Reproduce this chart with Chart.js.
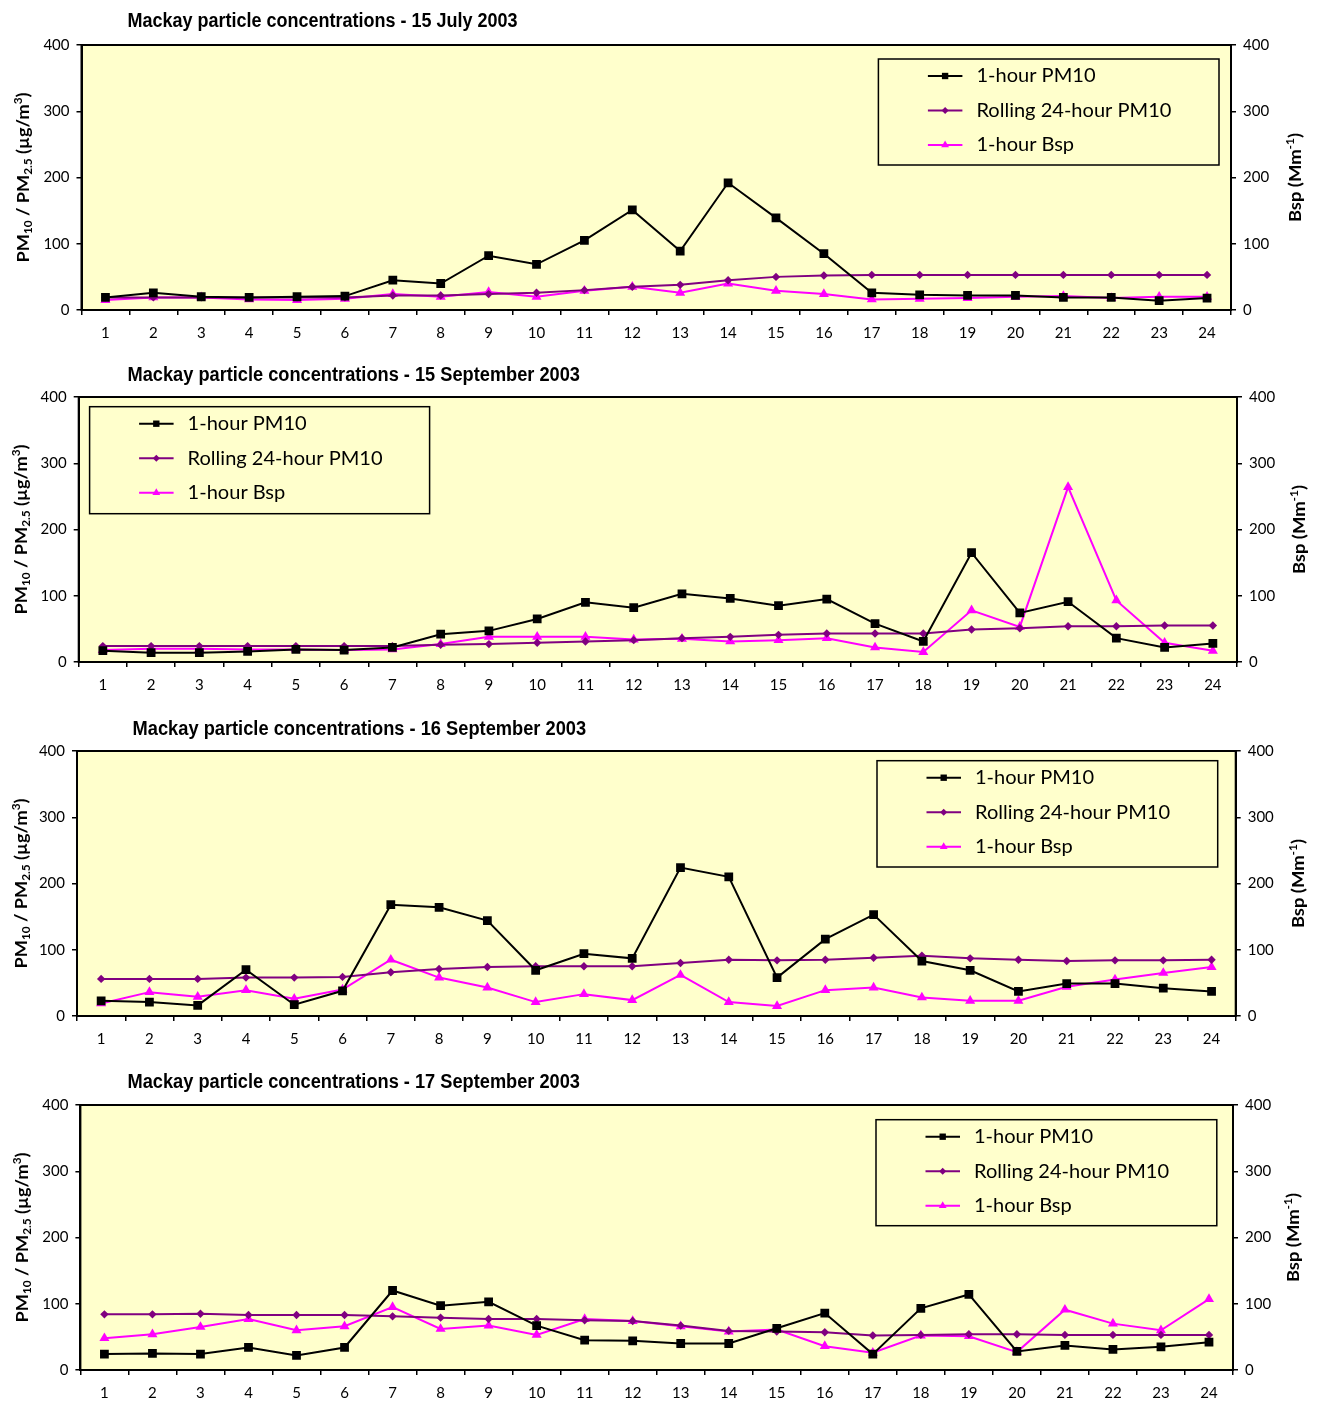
<!DOCTYPE html>
<html><head><meta charset="utf-8">
<script src="https://cdn.jsdelivr.net/npm/chart.js@4.4.0/dist/chart.umd.min.js"></script>
<style>
html,body{margin:0;padding:0;background:#fff;}
body{width:1319px;height:1401px;position:relative;overflow:hidden;}
canvas{position:absolute;left:0;}
</style></head><body>
<canvas id="c0" width="1319" height="341" style="top:0px"></canvas>
<canvas id="c1" width="1319" height="341" style="top:352px"></canvas>
<canvas id="c2" width="1319" height="341" style="top:706px"></canvas>
<canvas id="c3" width="1319" height="341" style="top:1060px"></canvas>
<script>
// ---------------- DATA ----------------
const hours = ['1','2','3','4','5','6','7','8','9','10','11','12','13','14','15','16','17','18','19','20','21','22','23','24'];
const chartTitles = [
  'Mackay particle concentrations - 15 July 2003',
  'Mackay particle concentrations - 15 September 2003',
  'Mackay particle concentrations - 16 September 2003',
  'Mackay particle concentrations - 17 September 2003'
];
const seriesNames = ['1-hour PM10', 'Rolling 24-hour PM10', '1-hour Bsp'];
const yTickMin = 0, yTickMax = 400, yTickStep = 100;

const pm10_15Jul  = [19,26,20,19,20,21,45,40,82,69,105,151,89,192,139,85,26,23,22,22,19,19,14,18];
const roll24_15Jul= [19,19,19,19,19,19,22,22,24,26,30,35,38,45,50,52,53,53,53,53,53,53,53,53];
const bsp_15Jul   = [15,19,19,16,15,17,24,20,27,20,29,35,26,40,29,24,16,17,18,20,21,18,20,20];

const pm10_15Sep  = [17,14,14,16,19,18,22,42,47,65,90,82,103,96,85,95,58,31,165,74,91,36,22,28];
const roll24_15Sep= [24,24,24,24,24,24,24,26,27,29,31,33,36,38,41,43,43,43,49,51,54,54,55,55];
const bsp_15Sep   = [18,20,20,19,19,18,19,27,38,38,38,34,35,31,33,36,22,15,78,53,264,93,29,17];

const pm10_16Sep  = [23,21,16,70,17,38,168,164,144,69,94,87,224,210,58,116,153,83,69,37,49,49,42,37];
const roll24_16Sep= [56,56,56,58,58,59,66,71,74,75,75,75,80,85,84,85,88,91,87,85,83,84,84,85];
const bsp_16Sep   = [19,36,29,39,26,40,85,58,43,21,33,24,62,21,15,39,43,28,23,23,44,55,65,74];

const pm10_17Sep  = [24,25,24,34,22,34,120,97,103,67,45,44,40,40,63,86,24,93,114,28,37,31,35,42];
const roll24_17Sep= [84,84,85,83,83,83,81,79,77,77,75,74,67,59,58,57,52,53,54,54,53,53,53,53];
const bsp_17Sep   = [48,54,65,77,60,66,95,62,67,53,77,74,66,58,61,36,26,52,51,27,91,70,60,107];

const pm10Sets  = [pm10_15Jul, pm10_15Sep, pm10_16Sep, pm10_17Sep];
const roll24Sets= [roll24_15Jul, roll24_15Sep, roll24_16Sep, roll24_17Sep];
const bspSets   = [bsp_15Jul, bsp_15Sep, bsp_16Sep, bsp_17Sep];

// ---------------- LAYOUT / STYLE ----------------
const W = 1319;
const frames = [
  {left:81.5, right:1231,   title:{x:127.5,y:21.7,w:390},   legend:{x:878.4,y:59,  w:340.6,h:106},  yTitleX:23, y1TitleX:1294.7},
  {left:78.7, right:1237,   title:{x:127.5,y:23,  w:452.5}, legend:{x:89.6, y:54.7,w:340,  h:107},  yTitleX:21, y1TitleX:1299},
  {left:77,   right:1235.7, title:{x:132.6,y:23,  w:453.5}, legend:{x:877,  y:54.7,w:340.7,h:106.3},yTitleX:21, y1TitleX:1297.6},
  {left:80.4, right:1233,   title:{x:127.5,y:22.7,w:452.5}, legend:{x:876,  y:59.7,w:340.8,h:106},  yTitleX:22, y1TitleX:1293}
];
const FONT = "Lato, 'Open Sans', sans-serif";
const TITLE_FONT = "'Liberation Sans Narrow', 'Liberation Sans', Arial, sans-serif";
const styles = [
  {color:'#000000', pointStyle:'rect',    radius:6.2, legendRadius:4.5},
  {color:'#800080', pointStyle:'rectRot', radius:4.2, legendRadius:3.5},
  {color:'#FF00FF', pointStyle:'triangle',radius:5.8, legendRadius:4.5}
];

function drawMarker(ctx, st, x, y){
  ctx.fillStyle = st.color;
  if (Chart.helpers && Chart.helpers.drawPoint) {
    Chart.helpers.drawPoint(ctx, {pointStyle: st.pointStyle, radius: st.legendRadius, borderWidth: 0, rotation: 0}, x, y);
  }
}

function fitText(ctx, text, x, y, targetW){
  const w = ctx.measureText(text).width;
  ctx.save(); ctx.translate(x, y); ctx.scale(targetW / w, 1); ctx.fillText(text, 0, 0); ctx.restore();
}

function drawRich(ctx, segs, cx, cy, targetLen, base){
  ctx.save();
  ctx.translate(cx, cy); ctx.rotate(-Math.PI/2);
  ctx.fillStyle = '#000'; ctx.textBaseline = 'alphabetic'; ctx.textAlign = 'left';
  const small = Math.round(base * 0.62);
  let total = 0;
  const ws = segs.map(s => { ctx.font = `bold ${s.k==='n'?base:small}px ${FONT}`; const w = ctx.measureText(s.t).width; total += w; return w; });
  ctx.scale(targetLen/total, 1);
  let x = -total/2;
  segs.forEach((s,i) => {
    ctx.font = `bold ${s.k==='n'?base:small}px ${FONT}`;
    const dy = s.k==='sub' ? base*0.15 : (s.k==='sup' ? -base*0.42 : 0);
    ctx.fillText(s.t, x, base*0.36 + dy);
    x += ws[i];
  });
  ctx.restore();
}

const leftTitle = [{t:'PM',k:'n'},{t:'10',k:'sub'},{t:' / PM',k:'n'},{t:'2.5',k:'sub'},{t:' (µg/m',k:'n'},{t:'3',k:'sup'},{t:')',k:'n'}];
const rightTitle = [{t:'Bsp (Mm',k:'n'},{t:'-1',k:'sup'},{t:')',k:'n'}];

function makeChart(i){
  const f = frames[i];
  const decor = {
    id:'decor'+i,
    beforeDraw(chart){
      const a = chart.chartArea, c = chart.ctx;
      c.save(); c.fillStyle = '#FFFFCC'; c.fillRect(a.left, a.top, a.right-a.left, a.bottom-a.top); c.restore();
    },
    beforeDatasetsDraw(chart){
      const a = chart.chartArea, c = chart.ctx;
      c.save(); c.strokeStyle = '#000'; c.lineWidth = 2;
      c.strokeRect(a.left, a.top, a.right-a.left, a.bottom-a.top); c.restore();
    },
    afterDraw(chart){
      const a = chart.chartArea, c = chart.ctx;
      // title
      c.save(); c.fillStyle = '#000'; c.font = `bold 20px ${TITLE_FONT}`; c.textBaseline = 'middle'; c.textAlign='left';
      fitText(c, chartTitles[i], f.title.x, f.title.y, f.title.w); c.restore();
      // axis titles
      const cy = (a.top + a.bottom)/2;
      drawRich(c, leftTitle, f.yTitleX, cy, 170, 17);
      drawRich(c, rightTitle, f.y1TitleX, cy, 89, 17);
      // legend box
      const L = f.legend;
      c.save();
      c.fillStyle = '#FFFFCC'; c.fillRect(L.x, L.y, L.w, L.h);
      c.strokeStyle = '#000'; c.lineWidth = 1.5; c.strokeRect(L.x, L.y, L.w, L.h);
      c.font = `20px ${FONT}`;
      const sc = 195 / c.measureText(seriesNames[1]).width;
      const rows = [17, 51.5, 86];
      chart.data.datasets.forEach((ds, k) => {
        const y = L.y + rows[k];
        const st = styles[k];
        c.strokeStyle = st.color; c.lineWidth = 2;
        c.beginPath(); c.moveTo(L.x + 49.5, y); c.lineTo(L.x + 84, y); c.stroke();
        drawMarker(c, st, L.x + 66.7, y);
        c.fillStyle = '#000'; c.textBaseline = 'middle'; c.textAlign = 'left';
        c.save(); c.translate(L.x + 98, y); c.scale(sc, 1); c.fillText(ds.label, 0, 0); c.restore();
      });
      c.restore();
    }
  };
  const yScale = (pos, width) => ({
    type:'linear', position:pos, min:yTickMin, max:yTickMax,
    ticks:{stepSize:yTickStep, color:'#000', font:{family:FONT, size:15}, padding:7},
    grid:{drawOnChartArea:false, drawTicks:true, tickLength:5, color:'#000', lineWidth:1.5},
    border:{display:true, color:'#000', width:2},
    afterFit(s){ s.width = width; }
  });
  const mk = (k, data, axis) => ({
    label: seriesNames[k], data, yAxisID: axis,
    borderColor: styles[k].color, backgroundColor: styles[k].color,
    pointBackgroundColor: styles[k].color, pointBorderColor: styles[k].color,
    borderWidth: 2, pointStyle: styles[k].pointStyle, pointRadius: styles[k].radius,
    pointBorderWidth: 0, tension: 0, fill: false
  });
  return new Chart(document.getElementById('c'+i), {
    type:'line',
    data:{ labels: hours, datasets:[ mk(0, pm10Sets[i], 'y'), mk(1, roll24Sets[i], 'y'), mk(2, bspSets[i], 'y1') ] },
    options:{
      responsive:false, devicePixelRatio:1, animation:false,
      layout:{padding:{top:45, left:0, right:0, bottom:0}},
      plugins:{legend:{display:false}, tooltip:{enabled:false}, title:{display:false}},
      scales:{
        x:{type:'category', offset:true,
           grid:{display:true, offset:true, drawOnChartArea:false, drawTicks:true, tickLength:5, color:'#000', lineWidth:1.5},
           border:{display:true, color:'#000', width:2},
           ticks:{color:'#000', font:{family:FONT, size:15}, padding:9, maxRotation:0, autoSkip:false},
           afterFit(s){ s.height = 31; }},
        y: yScale('left', f.left),
        y1: yScale('right', W - f.right)
      }
    },
    plugins:[decor]
  });
}
for (let i = 0; i < 4; i++) makeChart(i);
</script>
</body></html>
